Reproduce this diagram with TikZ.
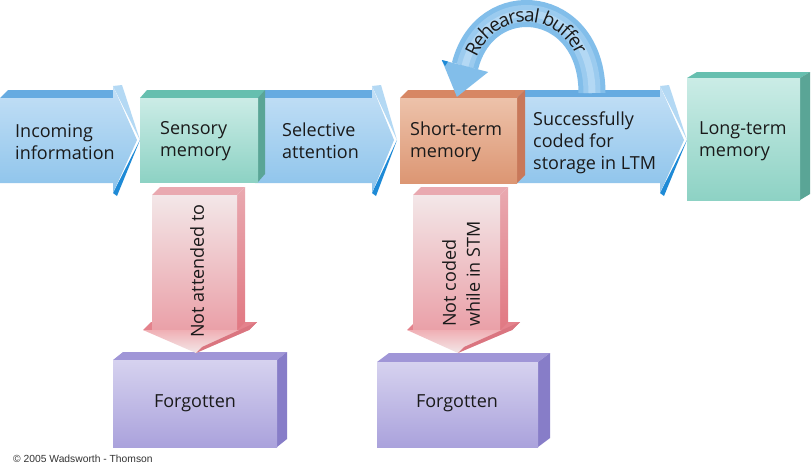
\documentclass[tikz,border=0pt]{standalone}
\usepackage{fontspec}
\setmainfont{Open Sans}
\newfontfamily\copyfont{Liberation Sans}
\usetikzlibrary{decorations.text}
\definecolor{txt}{HTML}{1A1A1A}
\definecolor{bluefT}{HTML}{C4E0F6}
\definecolor{bluefB}{HTML}{8CC3EB}
\definecolor{bluetopc}{HTML}{66ABE1}
\definecolor{bluebev}{HTML}{B4D9F4}
\definecolor{bluedark}{HTML}{1E8AD6}
\definecolor{rehA}{HTML}{82BEEA}
\definecolor{rehB}{HTML}{9BCBEF}
\definecolor{rehC}{HTML}{B3D8F4}
\definecolor{tealFT}{HTML}{CBECE6}
\definecolor{tealFB}{HTML}{8DD2C4}
\definecolor{tealT}{HTML}{66BFAF}
\definecolor{tealS}{HTML}{5AA596}
\definecolor{salFT}{HTML}{EDC2AA}
\definecolor{salFB}{HTML}{DC9673}
\definecolor{salT}{HTML}{D78764}
\definecolor{salS}{HTML}{C8785A}
\definecolor{purFT}{HTML}{D6D2EF}
\definecolor{purFB}{HTML}{AAA2DC}
\definecolor{purT}{HTML}{A096D7}
\definecolor{purS}{HTML}{877DC8}
\definecolor{pinkFT}{HTML}{F3E7E8}
\definecolor{pinkFB}{HTML}{EAA0A8}
\definecolor{pinkS}{HTML}{E17882}
\definecolor{pinkT}{HTML}{E9A9B0}
\definecolor{pinkHF}{HTML}{F0AFB4}
\definecolor{pinkHT}{HTML}{E4828C}
\definecolor{pinkHS}{HTML}{DA7580}
\newcommand\cubebox[7]{%
  \fill[#7top] (#1,#2) -- ({#1+#5},{#2-#6}) -- ({#3+#5},{#2-#6}) -- (#3,#2) -- cycle;
  \fill[#7side] (#3,#2) -- ({#3+#5},{#2-#6}) -- ({#3+#5},{#4-#6}) -- (#3,#4) -- cycle;
  \shade[#7front] (#1,#2) rectangle (#3,#4);
}
\newcommand\bluearrow[4]{% x0, xb, xt, fronttop
  \fill[bluetopc] (#1,#4) -- ({#1+8},90) -- (#2,90) -- (#2,#4) -- cycle;
  \fill[bluebev] (#2,86) -- ({#2+9},85) -- (#3,140) -- cycle;
  \fill[bluedark] (#3,140) -- ({#2+4},196) -- (#2,193) -- cycle;
  \shade[top color=bluefT,bottom color=bluefB] (#1,#4) -- (#2,#4) -- (#2,86) -- ({#3-3},140) -- (#2,193) -- (#2,183) -- (#1,183) -- cycle;
}
\newcommand\pinkarrow[5]{% x0, x1, hl, hr, tip
  \fill[pinkHT] (#3,330) -- ({#3+8},322) -- ({#4+8},322) -- (#4,330) -- cycle;
  \fill[pinkT] (#1,195) -- ({#1+8},187) -- ({#2+8},187) -- (#2,195) -- cycle;
  \shade[top color=pinkT,bottom color=pinkS] (#2,195) -- ({#2+8},187) -- ({#2+8},322) -- (#2,330) -- cycle;
  \shade[top color=pinkFT,bottom color=pinkFB] (#1,195) rectangle (#2,330);
  \shade[top color=pinkHF,bottom color=pinkFT] (#3,330) -- (#4,330) -- (#5,353) -- cycle;
  \fill[pinkHS] (#4,330) -- ({#4+8},322) -- ({#5+6},347) -- (#5,353) -- cycle;
}
\begin{document}
\begin{tikzpicture}[x=1pt,y=-1pt,
  lbl/.style={font=\fontsize{18}{22}\selectfont, align=left, inner sep=0pt, text=txt},
  tealtop/.style={fill=tealT}, tealside/.style={fill=tealS}, tealfront/.style={top color=tealFT,bottom color=tealFB},
  saltop/.style={fill=salT}, salside/.style={fill=salS}, salfront/.style={top color=salFT,bottom color=salFB},
  purtop/.style={fill=purT}, purside/.style={fill=purS}, purfront/.style={top color=purFT,bottom color=purFB}]
\useasboundingbox[fill=white] (0,0) rectangle (812,472);
% blue flow arrows
\bluearrow{0}{113}{140}{98}
\bluearrow{255}{372}{397}{98}
\bluearrow{515}{660}{687}{97}
% memory boxes
\cubebox{140}{98}{258}{182}{7}{8}{teal}
\cubebox{400}{98}{517}{183}{8}{8}{sal}
\cubebox{687}{78}{800}{200}{10}{6}{teal}
% rehearsal loop
\draw[line width=27pt, rehA] (592,93) .. controls (592,-2) and (485,-13) .. (465,66);
\draw[line width=17pt, rehB] (592,93) .. controls (592,-2) and (485,-13) .. (465,66);
\draw[line width=7pt, rehC] (592,93) .. controls (592,-2) and (485,-13) .. (465,66);
\fill[rehA] (441.8,60) -- (488.2,72) -- (456.9,96.9) -- cycle;
\fill[bluedark] (441.8,60) -- (448,61.6) -- (445,66) -- cycle;
\path[decorate, decoration={text along path, text color=txt,
  text={|\fontsize{19}{20}\selectfont|Rehearsal buffer},
  text align={left indent=13pt}, raise=-8.5pt}]
  (465,66) .. controls (485,-13) and (592,-2) .. (592,93);
% forgotten boxes
\cubebox{113}{360}{277}{447}{10}{8}{pur}
\cubebox{377}{362}{538}{447}{12}{9}{pur}
% pink down arrows
\pinkarrow{152}{237}{143}{249}{196}
\pinkarrow{413}{500}{407}{512}{458}
% labels
\node[lbl, anchor=west] (inc) at (15,141.5) {Incoming\\information};
\node[lbl, anchor=west] (sen) at (160,141.5) {Sensory\\memory};
\node[lbl, anchor=west] (sel) at (282,141) {Selective\\attention};
\node[lbl, anchor=west] (stm) at (410,141.5) {Short-term\\memory};
\node[lbl, anchor=west] (suc) at (533,143) {Successfully\\coded for\\storage in LTM};
\node[lbl, anchor=west] (ltm) at (699,141) {Long-term\\memory};
\node[lbl, rotate=90, anchor=west] (nat) at (197,338) {Not attended to};
\node[lbl, rotate=90, anchor=west, font=\fontsize{18}{24}\selectfont] (ncs) at (461,327) {Not coded\\while in STM};
\node[lbl] (fg1) at (195,403.5) {Forgotten};
\node[lbl] (fg2) at (457,403.5) {Forgotten};
\node[anchor=west, inner sep=0pt, font=\fontsize{10.3}{11}\selectfont\copyfont, text=black!80] (cpy) at (13,459) {© 2005 Wadsworth - Thomson};
\end{tikzpicture}
\end{document}
